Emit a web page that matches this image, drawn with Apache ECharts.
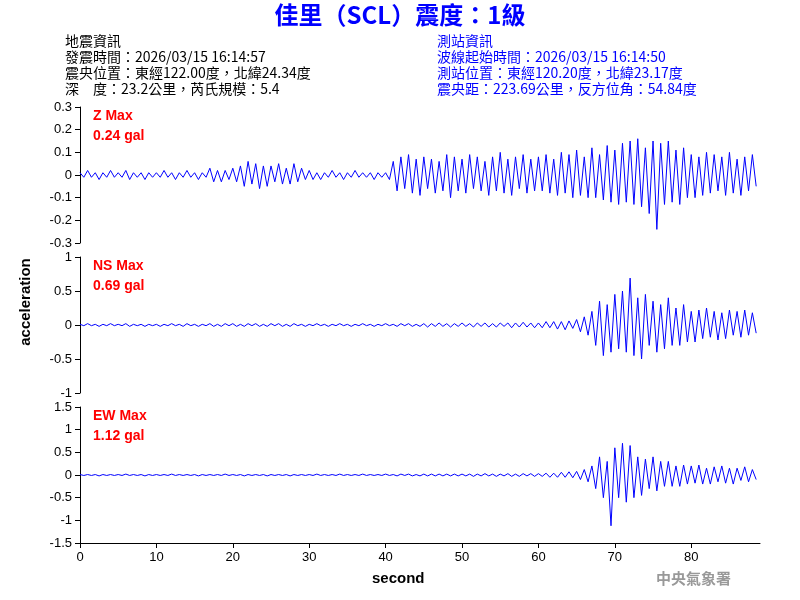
<!DOCTYPE html>
<html><head><meta charset="utf-8">
<script src="https://cdn.jsdelivr.net/npm/echarts@6/dist/echarts.min.js"></script>
<style>html,body{margin:0;padding:0;background:#fff}#c{width:800px;height:600px}</style>
</head><body><div id="c"></div>
<script>
const STEP = 0.5;
const zValues = [
0.01,-0.01,0.02,-0.01,0.01,-0.02,0.01,-0.01,0.02,-0.01,0.01,-0.01,0.02,-0.02,0.01,-0.01,0.01,-0.02,0.01,-0.01,
0.01,-0.01,0.02,-0.01,0.01,-0.02,0.01,-0.01,0.02,-0.01,0.01,-0.02,0.01,-0.01,0.03,-0.03,0.02,-0.03,0.02,-0.02,
0.03,-0.03,0.04,-0.05,0.06,-0.04,0.05,-0.06,0.04,-0.05,0.04,-0.03,0.05,-0.04,0.03,-0.04,0.05,-0.03,0.03,-0.02,
0.02,-0.02,0.01,-0.02,0.01,-0.01,0.02,-0.01,0.01,-0.02,0.01,-0.01,0.02,-0.01,0.01,-0.01,0.01,-0.02,0.01,-0.01,
0.01,-0.02,0.06,-0.07,0.08,-0.06,0.09,-0.08,0.07,-0.09,0.08,-0.06,0.07,-0.08,0.06,-0.07,0.09,-0.1,0.08,-0.07,
0.07,-0.08,0.09,-0.06,0.08,-0.07,0.06,-0.09,0.08,-0.07,0.1,-0.08,0.07,-0.09,0.08,-0.06,0.09,-0.08,0.07,-0.07,
0.08,-0.07,0.09,-0.08,0.07,-0.09,0.1,-0.08,0.09,-0.1,0.11,-0.09,0.08,-0.1,0.12,-0.1,0.09,-0.11,0.13,-0.12,
0.11,-0.13,0.14,-0.12,0.15,-0.13,0.16,-0.14,0.12,-0.17,0.15,-0.24,0.14,-0.13,0.15,-0.12,0.11,-0.13,0.12,-0.1,
0.09,-0.1,0.08,-0.09,0.1,-0.08,0.09,-0.07,0.08,-0.09,0.1,-0.08,0.07,-0.09,0.08,-0.07,0.09,-0.05];
const nsValues = [
0.01,-0.01,0.02,-0.01,0.01,-0.02,0.01,-0.01,0.02,-0.01,0.01,-0.01,0.02,-0.02,0.01,-0.01,0.01,-0.02,0.01,-0.01,
0.01,-0.02,0.01,-0.01,0.02,-0.01,0.01,-0.02,0.02,-0.01,0.01,-0.02,0.01,-0.01,0.02,-0.02,0.01,-0.02,0.02,-0.01,
0.02,-0.02,0.01,-0.02,0.02,-0.01,0.02,-0.02,0.01,-0.02,0.02,-0.01,0.02,-0.02,0.01,-0.02,0.02,-0.01,0.01,-0.02,
0.01,-0.01,0.02,-0.01,0.01,-0.02,0.01,-0.01,0.02,-0.01,0.01,-0.02,0.01,-0.01,0.02,-0.01,0.01,-0.02,0.01,-0.01,
0.02,-0.01,0.01,-0.02,0.02,-0.01,0.02,-0.02,0.01,-0.02,0.02,-0.03,0.02,-0.02,0.03,-0.02,0.02,-0.03,0.02,-0.02,
0.03,-0.02,0.02,-0.03,0.03,-0.02,0.03,-0.03,0.02,-0.03,0.03,-0.02,0.03,-0.04,0.03,-0.03,0.04,-0.03,0.03,-0.04,
0.03,-0.04,0.05,-0.04,0.05,-0.06,0.05,-0.07,0.06,-0.05,0.08,-0.1,0.12,-0.15,0.2,-0.3,0.35,-0.45,0.3,-0.4,
0.45,-0.35,0.5,-0.4,0.69,-0.45,0.4,-0.5,0.45,-0.3,0.35,-0.4,0.3,-0.35,0.4,-0.3,0.25,-0.3,0.3,-0.25,
0.2,-0.25,0.22,-0.2,0.25,-0.18,0.2,-0.22,0.18,-0.2,0.22,-0.15,0.2,-0.18,0.22,-0.15,0.18,-0.12];
const ewValues = [
0.01,-0.01,0.01,-0.01,0.01,-0.02,0.01,-0.01,0.01,-0.01,0.01,-0.01,0.02,-0.01,0.01,-0.01,0.01,-0.02,0.01,-0.01,
0.01,-0.01,0.01,-0.01,0.02,-0.01,0.01,-0.01,0.01,-0.01,0.01,-0.02,0.01,-0.01,0.01,-0.01,0.01,-0.01,0.02,-0.01,
0.01,-0.01,0.01,-0.02,0.01,-0.01,0.01,-0.01,0.01,-0.02,0.01,-0.01,0.01,-0.01,0.01,-0.02,0.01,-0.01,0.01,-0.01,
0.01,-0.01,0.02,-0.01,0.01,-0.01,0.01,-0.01,0.02,-0.01,0.01,-0.01,0.01,-0.01,0.02,-0.01,0.01,-0.01,0.01,-0.01,
0.02,-0.01,0.01,-0.02,0.02,-0.01,0.02,-0.02,0.01,-0.02,0.02,-0.02,0.02,-0.02,0.02,-0.02,0.02,-0.02,0.02,-0.02,
0.02,-0.02,0.02,-0.03,0.02,-0.02,0.03,-0.02,0.02,-0.03,0.02,-0.02,0.03,-0.03,0.02,-0.03,0.03,-0.02,0.03,-0.03,
0.03,-0.03,0.04,-0.05,0.04,-0.05,0.06,-0.05,0.07,-0.06,0.08,-0.1,0.12,-0.15,0.2,-0.3,0.4,-0.5,0.3,-1.12,
0.6,-0.5,0.7,-0.6,0.65,-0.5,0.4,-0.45,0.35,-0.3,0.4,-0.35,0.3,-0.25,0.3,-0.25,0.2,-0.25,0.22,-0.2,
0.2,-0.18,0.22,-0.2,0.15,-0.2,0.18,-0.15,0.2,-0.18,0.15,-0.2,0.15,-0.12,0.18,-0.15,0.12,-0.1];
const xTicks = [0,10,20,30,40,50,60,70,80];
const maxLabels = [['Z Max','0.24 gal'],['NS Max','0.69 gal'],['EW Max','1.12 gal']];
const yRanges = [[-0.3,0.3,0.1],[-1,1,0.5],[-1.5,1.5,0.5]];

const toPairs = a => a.map((v,i)=>[i*STEP,v]);
const tops = [107,257,407], h = 136;
const F = 'Liberation Sans, Arial, sans-serif';
const CJK = '"Noto Sans CJK TC", sans-serif';
const grids = tops.map(t=>({left:80,right:40,top:t,height:h}));
const xAxis = tops.map((t,i)=>({gridIndex:i,type:'value',min:0,max:89,interval:10,
  axisLine:{show:i===2,onZero:false,lineStyle:{color:'#000'}},axisTick:{show:i===2,lineStyle:{color:'#000'}},
  axisLabel:{show:i===2,color:'#000',fontFamily:F,fontSize:13,showMaxLabel:false},splitLine:{show:false}}));
const yAxis = yRanges.map((r,i)=>({gridIndex:i,type:'value',min:r[0],max:r[1],interval:r[2],
  axisLine:{show:true,lineStyle:{color:'#000'}},axisTick:{show:true,lineStyle:{color:'#000'}},
  axisLabel:{color:'#000',fontFamily:F,fontSize:13,formatter:v=>String(+v.toFixed(2))},splitLine:{show:false}}));
const series = [zValues,nsValues,ewValues].map((d,i)=>({type:'line',xAxisIndex:i,yAxisIndex:i,data:toPairs(d),
  showSymbol:false,lineStyle:{color:'#0000ff',width:1},silent:true,animation:false}));
const txt = (x,y,s,o)=>({type:'text',left:x,top:y,style:Object.assign({text:s,fill:'#000',font:'14px '+CJK},o||{})});
const graphic = [
  {type:'text',left:'center',top:3,style:{text:'佳里（SCL）震度：1級',fill:'#0000ff',font:'bold 24px '+CJK}},
  txt(65,34,'地震資訊'),txt(65,50,'發震時間：2026/03/15 16:14:57'),txt(65,66,'震央位置：東經122.00度，北緯24.34度'),txt(65,82,'深　度：23.2公里，芮氏規模：5.4'),
  txt(437,34,'測站資訊',{fill:'#0000ff'}),txt(437,50,'波線起始時間：2026/03/15 16:14:50',{fill:'#0000ff'}),
  txt(437,66,'測站位置：東經120.20度，北緯23.17度',{fill:'#0000ff'}),txt(437,82,'震央距：223.69公里，反方位角：54.84度',{fill:'#0000ff'}),
  {type:'text',left:656,top:571,style:{text:'中央氣象署',fill:'#999',font:'bold 15px '+CJK}},
  {type:'text',left:372,top:571,style:{text:'second',fill:'#000',font:'bold 15px '+F}},
  {type:'text',x:26,y:302,rotation:Math.PI/2,style:{text:'acceleration',fill:'#000',font:'bold 15px '+F,align:'center',verticalAlign:'middle'}}
];
maxLabels.forEach((m,i)=>{
  graphic.push({type:'text',left:93,top:tops[i]+2,style:{text:m[0],fill:'#ff0000',font:'bold 14px '+F}});
  graphic.push({type:'text',left:93,top:tops[i]+22,style:{text:m[1],fill:'#ff0000',font:'bold 14px '+F}});
});
const chart = echarts.init(document.getElementById('c'));
chart.setOption({animation:false,grid:grids,xAxis,yAxis,series,graphic});
</script></body></html>
